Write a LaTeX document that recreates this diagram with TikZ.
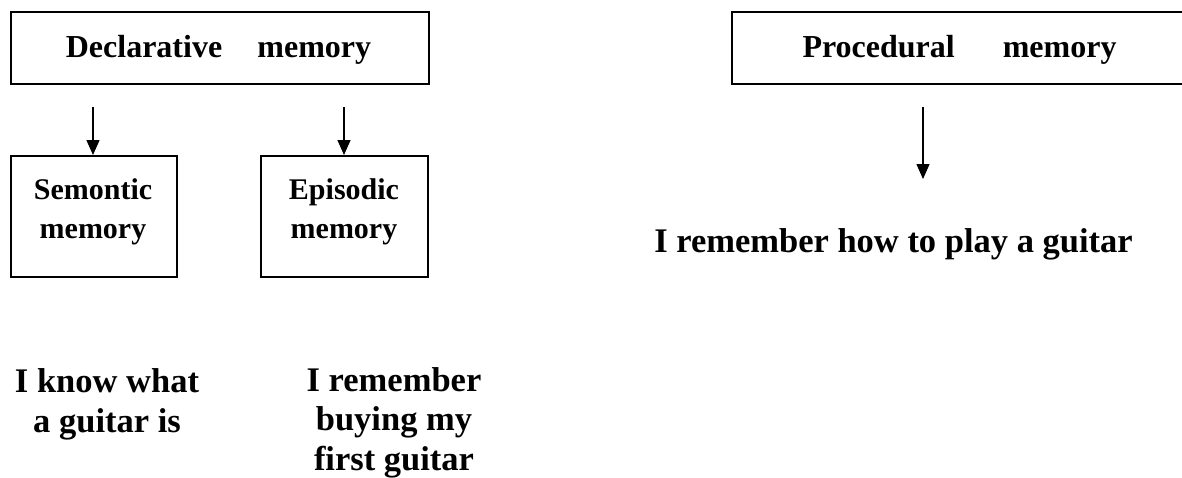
\documentclass[tikz,border=0pt]{standalone}
\usepackage{fontspec}
\setmainfont{Liberation Serif}
\usetikzlibrary{arrows.meta}
\begin{document}
\begin{tikzpicture}[x=1pt,y=-1pt,
  box/.style={draw=black,line width=1.5pt,inner sep=0pt,anchor=north west},
  txt/.style={font=\fontsize{30}{39}\selectfont\bfseries,anchor=base,inner sep=0pt,align=center},
  ex/.style={font=\fontsize{34.5}{39.5}\selectfont\bfseries,anchor=base,inner sep=0pt,align=center},
  ttl/.style={font=\fontsize{32}{38}\selectfont\bfseries,anchor=base,inner sep=0pt},
  arr/.style={line width=1.3pt,-{Triangle[width=13pt,length=15pt]}}]
\useasboundingbox (0,0) rectangle (1182,477);
% boxes
\node[box,minimum width=418pt,minimum height=72pt] (decl) at (10,11) {};
\node[box,minimum width=460pt,minimum height=72pt] (proc) at (731,11) {};
\node[box,minimum width=166pt,minimum height=121pt] (sem) at (10,155) {};
\node[box,minimum width=167pt,minimum height=121pt] (epi) at (260,155) {};
% titles
\node[ttl] (declt) at (218.5,57) {Declarative\hspace{1.1em}memory};
\node[ttl] (proct) at (959.5,57) {Procedural\hspace{1.5em}memory};
\node[txt] (semt) at (93,238) {Semontic\\memory};
\node[txt] (epit) at (344,238) {Episodic\\memory};
% examples
\node[ex] (ex1) at (107,432) {I know what\\a guitar is};
\node[ex] (ex2) at (394,470) {I remember\\buying my\\first guitar};
\node[ex] (ex3) at (893.5,252) {I remember how to play a guitar};
% arrows
\coordinate (a1) at (93,107);
\coordinate (a2) at (344,107);
\coordinate (a3) at (923,107);
\coordinate (a3e) at (923,179);
\draw[arr] (a1) -- (sem.north -| a1);
\draw[arr] (a2) -- (epi.north -| a2);
\draw[arr] (a3) -- (a3e);
\end{tikzpicture}
\end{document}
